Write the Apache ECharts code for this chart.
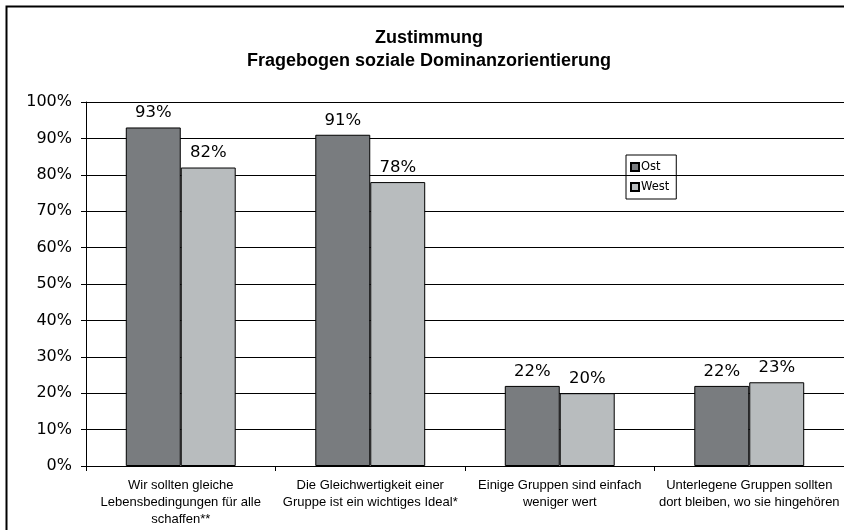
<!DOCTYPE html>
<html>
<head>
<meta charset="utf-8">
<script src="https://cdn.jsdelivr.net/npm/echarts@6/dist/echarts.min.js"></script>
<style>
  html, body { margin: 0; padding: 0; background: #fff; }
  #chart { width: 844px; height: 530px; }
</style>
</head>
<body>
<div id="chart"></div>
<script>
  var categories = [
    'Wir sollten gleiche\nLebensbedingungen für alle\nschaffen**',
    'Die Gleichwertigkeit einer\nGruppe ist ein wichtiges Ideal*',
    'Einige Gruppen sind einfach\nweniger wert',
    'Unterlegene Gruppen sollten\ndort bleiben, wo sie hingehören'
  ];
  var ost = [93, 91, 22, 22];
  var west = [82, 78, 20, 23];

  var chart = echarts.init(document.getElementById('chart'));
  var labelStyle = {
    show: true,
    position: 'top',
    distance: 6,
    formatter: '{c}%',
    fontFamily: 'DejaVu Sans',
    fontSize: 16.5,
    color: '#000'
  };
  chart.setOption({
    animation: false,
    title: {
      text: 'Zustimmung\nFragebogen soziale Dominanzorientierung',
      left: 424,
      top: 22,
      textAlign: 'center',
      textStyle: {
        fontFamily: 'Liberation Sans',
        fontWeight: 'bold',
        fontSize: 18,
        lineHeight: 23,
        color: '#000'
      }
    },
    graphic: [{
      type: 'rect',
      shape: { x: 6.5, y: 6.5, width: 900, height: 560 },
      style: { fill: 'none', stroke: '#000', lineWidth: 2 }
    }],
    legend: {
      orient: 'vertical',
      left: 626,
      top: 155,
      itemWidth: 8,
      itemHeight: 8,
      itemGap: 8,
      padding: [6, 7, 6, 4],
      borderColor: '#000',
      borderWidth: 1,
      icon: 'rect',
      textStyle: { fontFamily: 'DejaVu Sans', fontSize: 11.5, color: '#000', padding: [0, 0, 0, -3] },
      data: ['Ost', 'West']
    },
    grid: { left: 86, right: -9, top: 102, bottom: 64 },
    xAxis: {
      type: 'category',
      data: categories,
      axisLine: { lineStyle: { color: '#000', width: 1 } },
      axisTick: { show: true, length: 5, lineStyle: { color: '#000' } },
      axisLabel: {
        fontFamily: 'Liberation Sans',
        fontSize: 13,
        lineHeight: 17,
        color: '#000',
        margin: 11,
        interval: 0
      }
    },
    yAxis: {
      type: 'value',
      min: 0,
      max: 100,
      interval: 10,
      axisLine: { show: true, lineStyle: { color: '#000', width: 1 } },
      axisTick: { show: true, length: 5, lineStyle: { color: '#000' } },
      splitLine: { lineStyle: { color: '#000', width: 1 } },
      axisLabel: {
        formatter: '{value}%',
        fontFamily: 'DejaVu Sans',
        fontSize: 16,
        color: '#000',
        margin: 14
      }
    },
    series: [{
      name: 'Ost',
      type: 'bar',
      data: ost,
      barGap: '0%',
      barCategoryGap: '42%',
      itemStyle: { color: '#797c7f', borderColor: '#000', borderWidth: 1 },
      label: labelStyle
    }, {
      name: 'West',
      type: 'bar',
      data: west,
      itemStyle: { color: '#b8bcbe', borderColor: '#000', borderWidth: 1 },
      label: labelStyle
    }]
  });
</script>
</body>
</html>
